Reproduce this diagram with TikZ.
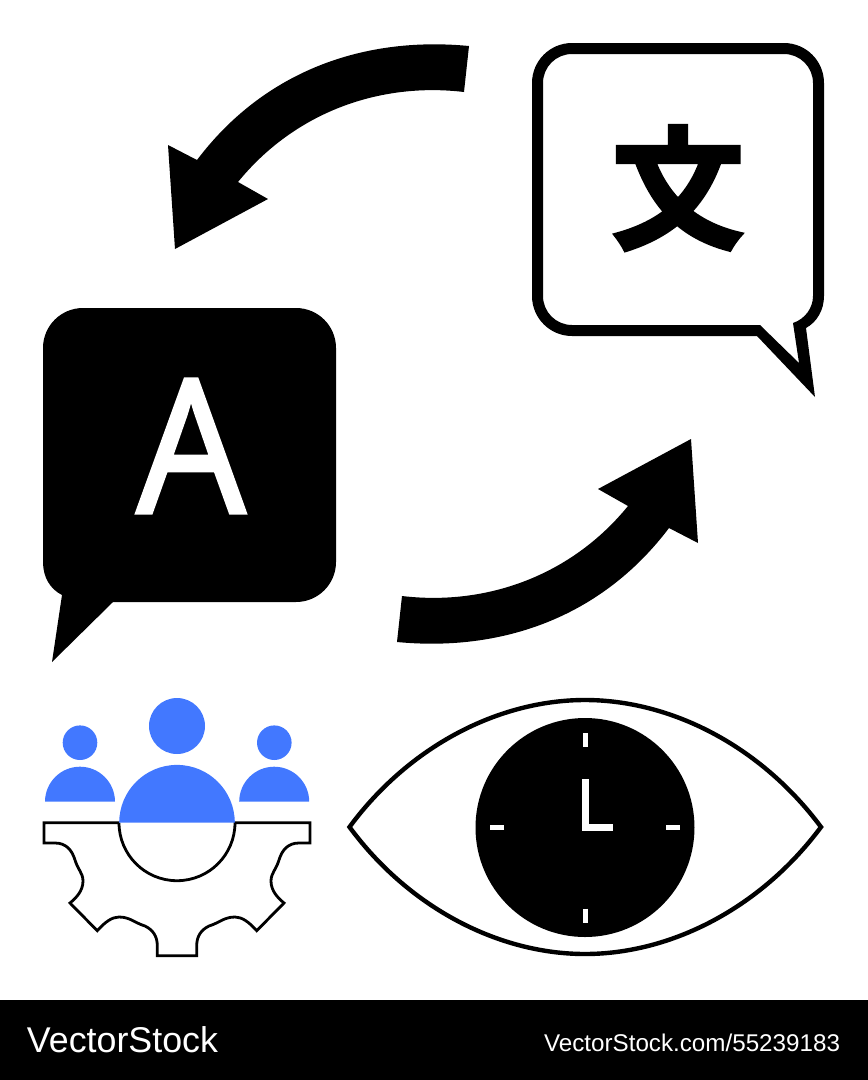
\documentclass[tikz,border=0pt]{standalone}
\usepackage{fontspec}
\setmainfont{Liberation Sans}
\newfontfamily\cjk[FakeBold=3]{Noto Sans CJK KR Bold}
\newfontfamily\opensans[FakeBold=2]{Open Sans}
\usetikzlibrary{positioning}
\definecolor{crewblue}{HTML}{4278FF}
\tikzset{%
   lbl/.style={
      inner sep=0pt,
      outer sep=0pt
   },
   wmark/.style={
      lbl,
      text=white,
      anchor=west
   },
   crew/.style={
      fill=crewblue
   },
   gearline/.style={
      draw=black,
      line width=2.8pt,
      line join=miter
   },
   eyeline/.style={
      draw=black,
      line width=4.4pt,
      line join=miter
   },
   clockmark/.style={
      draw=white,
      line width=5pt
   },
   clockhand/.style={
      draw=white,
      line width=7pt,
      line join=miter
   },
}
\newcommand\turnarrow[1][]{%
  \fill[#1] (469,46) .. controls (365,36) and (265,70) .. (197,160)
     -- (168,145) -- (175,249) -- (268,199) -- (238,182)
     .. controls (295,112) and (380,82) .. (464,92) -- cycle;%
}
\begin{document}
\begin{tikzpicture}[x=1pt, y=-1pt]
      \useasboundingbox (0,0) rectangle (868,1080);
      \turnarrow
      \turnarrow[rotate around={180:(433,344)}]

      \fill (113,602) [rounded corners=40pt] -- (336,602) -- (336,308) -- (43,308) [sharp corners] -- (43,562)
         .. controls (43,577) and (50,589) .. (62,595) -- (52,662) -- cycle;
      \node[lbl, text=white, transform shape, xscale=.92] (lata) at (191,446) {\opensans\fontsize{186}{186}\selectfont A};

      \fill[even odd rule] (806,328) -- (815,397) -- (757,336) [rounded corners=40pt] -- (532,336) -- (532,43) -- (824,43) [sharp corners] -- (824,296)
         .. controls (824,310) and (817,322) .. (806,328) -- cycle
         (793,323) -- (799,363) -- (760,325) [rounded corners=29pt] -- (543,325) -- (543,54) -- (813,54) [sharp corners] -- (813,296)
         .. controls (813,308) and (805,319) .. (793,323) -- cycle;
      \node[lbl] (han) at (678,188) {\cjk\fontsize{132}{132}\selectfont 文};

      \fill[crew] (177,726) circle (28);
      \fill[crew] (80,742.7) circle (17.3);
      \fill[crew] (274.3,742.7) circle (17.3);
      \draw[gearline] (119,822.7) -- (44,822.7) -- (44,843) -- (55,843)
         .. controls (66,843) and (72,850) .. (75,860)
         .. controls (78,870) and (83,873) .. (83,881)
         .. controls (83,891) and (76,898) .. (70,903) -- (97.3,930.7)
         .. controls (105,922) and (112,917) .. (119,917)
         .. controls (130,917) and (135,923) .. (145,926)
         .. controls (153,930) and (157,936) .. (157.3,945) -- (157.3,955.7) -- (196.7,955.7) -- (196.7,945)
         .. controls (197,936) and (201,930) .. (209,926)
         .. controls (219,923) and (224,917) .. (235,917)
         .. controls (242,917) and (249,922) .. (256.7,930.7) -- (284,903)
         .. controls (278,898) and (271,891) .. (271,881)
         .. controls (271,873) and (276,870) .. (279,860)
         .. controls (282,850) and (288,843) .. (299,843) -- (310,843) -- (310,822.7) -- (235,822.7)
         arc[start angle=0, end angle=180, radius=58];
      \fill[crew] (119.2,822.7) arc[start angle=180, end angle=360, radius=57.8] -- cycle;
      \fill[crew] (45,801.7) arc[start angle=180, end angle=360, radius=35] -- cycle;
      \fill[crew] (239.2,801.7) arc[start angle=180, end angle=360, radius=35] -- cycle;

      \draw[eyeline] (349.5,827) .. controls (410,745) and (500,700) .. (585,700)
         .. controls (670,700) and (760,745) .. (821,827)
         .. controls (760,909) and (670,954) .. (585,954)
         .. controls (500,954) and (410,909) .. (349.5,827) -- cycle;
      \coordinate (hub) at (585,827.5);
      \fill (hub) circle (109.5);
      \foreach \ang in {0,90,180,270}
         \draw[clockmark] ([shift={(\ang:81)}]hub) -- ([shift={(\ang:95)}]hub);
      \draw[clockhand] (585.3,779) -- (585.3,827.8) -- (613,827.8);

      \fill (0,1000) rectangle (868,1080);
      \node[wmark] (brand) at (27,1040) {\fontsize{35.8}{36}\selectfont VectorStock};
      \node[wmark, anchor=east] (stockref) at (840,1043) {\fontsize{24.2}{25}\selectfont VectorStock.com/55239183};
   \end{tikzpicture}
\end{document}
